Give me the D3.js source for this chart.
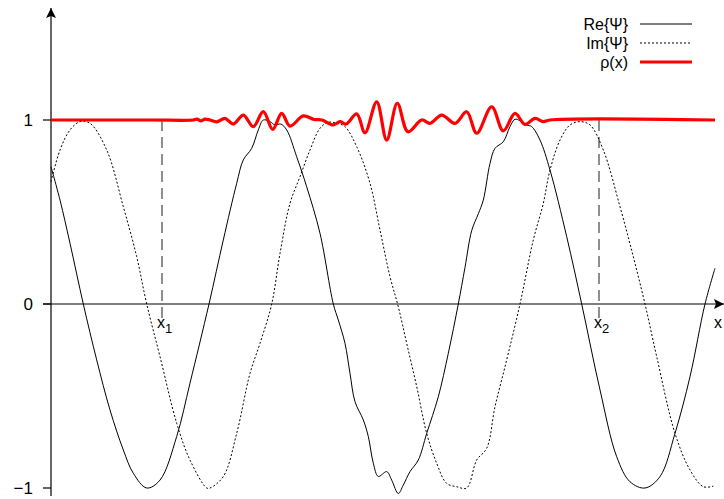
<!DOCTYPE html>
<html><head><meta charset="utf-8">
<script src="https://cdn.jsdelivr.net/npm/d3@7"></script>
<style>
html,body{margin:0;padding:0;background:#fff;}
svg{display:block;font-family:"Liberation Sans",Arial,Helvetica,sans-serif;}
</style></head>
<body>
<svg id="c" width="724" height="499"></svg>
<script>
// position along x (arbitrary units) and value pairs
const reX = [0,9,19,32.3,45.7,59,72.3,82.3,95.7,109,125.7,139,158,172.3,185.7,192.3,200.7,207.3,212.3,219,224,229.7,235.7,245.7,255.7,269,282.3,287.3,294,299,304,312.3,317.3,322.3,327.3,335.7,340.7,347.3,352.3,359,367.3,375.7,387.3,397.3,407.3,414,420.7,427.3,432.3,439,444,452.3,459,464,469,475.7,480.7,489,499,515.7,530.7,549,565.7,579,594,609,624,639,654,664];
const reY = [0.746,0.565,0.33,0,-0.304,-0.576,-0.793,-0.92,-1.0,-0.957,-0.72,-0.43,0,0.348,0.656,0.783,0.846,0.946,1.0,0.991,0.973,0.978,0.946,0.80,0.637,0.384,0,-0.087,-0.214,-0.377,-0.531,-0.63,-0.72,-0.865,-0.937,-0.911,-0.957,-1.03,-0.984,-0.911,-0.848,-0.703,-0.504,-0.268,0,0.199,0.399,0.49,0.565,0.764,0.846,0.882,0.964,1.004,0.996,0.973,0.964,0.891,0.728,0.366,0,-0.467,-0.83,-0.966,-1.0,-0.938,-0.703,-0.395,0,0.194];
const imX = [0,9,19,29,39,55.7,72.3,85.7,95.7,109,125.7,139,155.7,159,172.3,185.7,199,209,220.7,229,239,249,259,269,277.3,285.7,294,305.7,319,329,339,347.3,355.7,365.7,375.7,385.7,395.7,405.7,415.7,425.7,435.7,444,454,469,482.3,492.3,499,509,519,529,539,552.3,569,582.3,594,605.7,624,639,652.3,662.3];
const imY = [0.665,0.837,0.946,0.991,0.982,0.837,0.529,0.257,0,-0.286,-0.648,-0.848,-1.0,-1.0,-0.938,-0.703,-0.377,-0.214,0,0.275,0.547,0.692,0.837,0.955,0.988,0.982,0.964,0.855,0.656,0.402,0.149,-0.015,-0.214,-0.449,-0.703,-0.866,-0.975,-0.993,-1.0,-0.848,-0.784,-0.558,-0.341,0,0.348,0.547,0.728,0.891,0.973,0.991,0.973,0.837,0.529,0.257,0,-0.286,-0.703,-0.902,-0.993,-0.99];
const rhoX = [0,100,142,146,150,154,159,165.7,174,182.3,192.3,202.3,212.3,221.7,230.7,239,252.3,263,271,282,289,295,305.7,314,325.7,335.7,346.3,357,370.7,379,390.7,404,415.7,425.7,440.7,452.3,464,474,484,492.3,499,664];
const rhoY = [1,1,1,1.005,0.995,1.005,1.0,0.99,1.009,0.978,1.027,0.964,1.045,0.949,1.036,0.967,1.022,1.003,1.0,0.973,0.991,0.978,1.033,0.931,1.099,0.891,1.091,0.936,1.0,0.982,1.027,0.982,1.045,0.928,1.072,0.941,1.036,0.976,1.009,0.991,1.0,1];
const yTicks = [-1, 0, 1];
const yTickLabels = ["\u22121", "0", "1"];
const markX = [111, 548];
const markLabels = ["1", "2"];
const legendLabels = ["Re{\u03A8}", "Im{\u03A8}", "\u03C1(x)"];

const svg = d3.select("#c");
const x = d3.scaleLinear().domain([0, 664]).range([51, 715]);
const y = d3.scaleLinear().domain([-1, 1]).range([488, 120]);

const mk = (xs, ys) => xs.map((v, i) => [v, ys[i]]);
const line = d3.line().x(d => x(d[0])).y(d => y(d[1])).curve(d3.curveCatmullRom.alpha(0.5));

// dashed markers
markX.forEach((m, i) => {
  svg.append("line").attr("x1", x(m)).attr("x2", x(m)).attr("y1", y(1)).attr("y2", y(0) + 14)
    .attr("stroke", "#444").attr("stroke-width", 1.2).attr("stroke-dasharray", "11,6");
  const t = svg.append("text").attr("x", x(m) - 5).attr("y", y(0) + 24).attr("font-size", 16).attr("fill", "#000");
  t.append("tspan").text("x");
  t.append("tspan").attr("font-size", 13).attr("dy", 5).text(markLabels[i]);
});

// axes
const defs = svg.append("defs");
defs.append("marker").attr("id", "arr").attr("viewBox", "0 0 10 10").attr("refX", 10).attr("refY", 5)
  .attr("markerWidth", 10).attr("markerHeight", 10).attr("markerUnits", "userSpaceOnUse").attr("orient", "auto")
  .append("path").attr("d", "M0,0 L10,5 L0,10 L2,5 Z").attr("fill", "#000");
svg.append("line").attr("x1", 43).attr("x2", 724).attr("y1", y(0)).attr("y2", y(0))
  .attr("stroke", "#000").attr("stroke-width", 1.2).attr("marker-end", "url(#arr)");
svg.append("line").attr("x1", 51).attr("x2", 51).attr("y1", 496).attr("y2", 8)
  .attr("stroke", "#000").attr("stroke-width", 1.2).attr("marker-end", "url(#arr)");
yTicks.forEach((v, i) => {
  svg.append("line").attr("x1", 43).attr("x2", 51).attr("y1", y(v)).attr("y2", y(v)).attr("stroke", "#000").attr("stroke-width", 1.2);
  svg.append("text").attr("x", 33).attr("y", y(v)).attr("dy", "0.35em").attr("text-anchor", "end")
    .attr("font-size", 17).text(yTickLabels[i]);
});
svg.append("text").attr("x", 714).attr("y", y(0) + 24).attr("font-size", 16).text("x");

// curves
svg.append("path").datum(mk(reX, reY)).attr("d", line).attr("fill", "none").attr("stroke", "#000").attr("stroke-width", 1);
svg.append("path").datum(mk(imX, imY)).attr("d", line).attr("fill", "none").attr("stroke", "#000").attr("stroke-width", 1).attr("stroke-dasharray", "2,2");
svg.append("path").datum(mk(rhoX, rhoY)).attr("d", line).attr("fill", "none").attr("stroke", "#ff0000").attr("stroke-width", 3.2);

// legend
const styles = [
  {stroke: "#000", w: 1, dash: null},
  {stroke: "#000", w: 1, dash: "2,2"},
  {stroke: "#ff0000", w: 3.2, dash: null}
];
legendLabels.forEach((l, i) => {
  const ly = 24 + i * 19;
  svg.append("text").attr("x", 628).attr("y", ly).attr("dy", "0.35em").attr("text-anchor", "end").attr("font-size", 16).text(l);
  svg.append("line").attr("x1", 640).attr("x2", 692).attr("y1", ly).attr("y2", ly)
    .attr("stroke", styles[i].stroke).attr("stroke-width", styles[i].w).attr("stroke-dasharray", styles[i].dash);
});
</script>
</body></html>
